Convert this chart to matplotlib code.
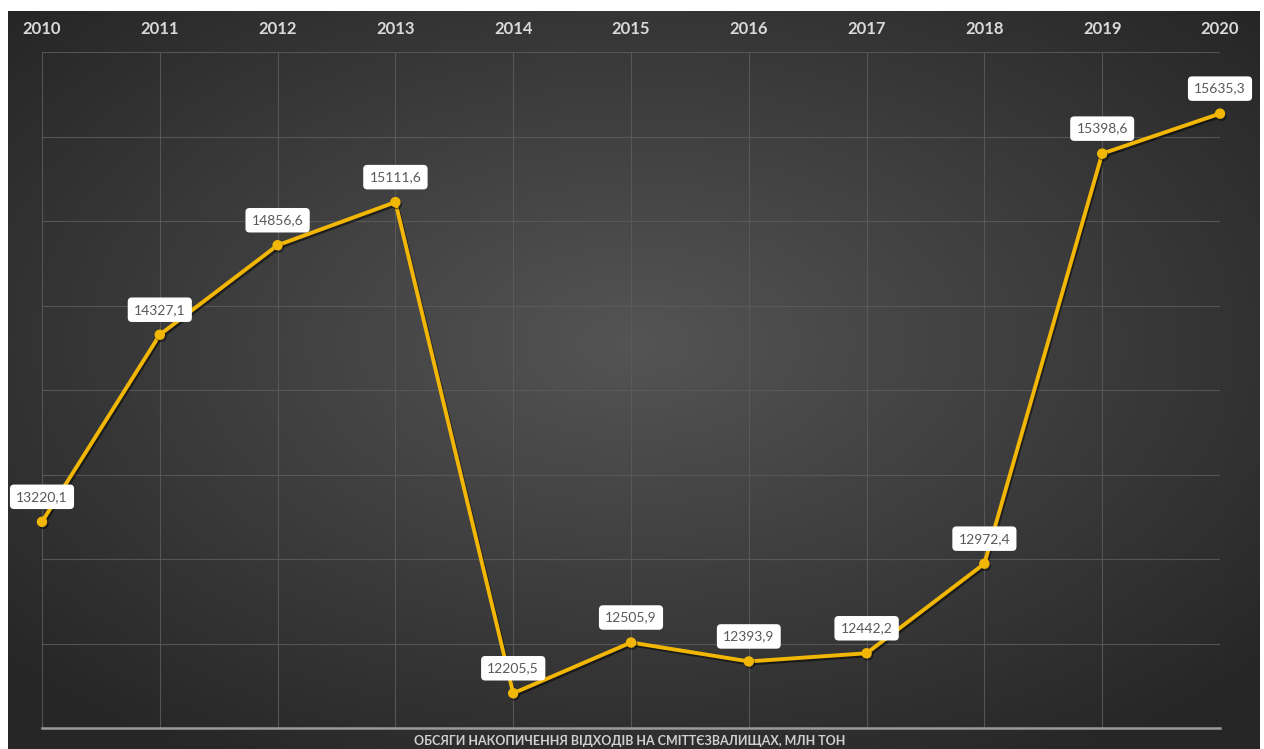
import numpy as np
import matplotlib.pyplot as plt
import matplotlib.patheffects as pe

# дані
years = [2010, 2011, 2012, 2013, 2014, 2015, 2016, 2017, 2018, 2019, 2020]
values = [13220.1, 14327.1, 14856.6, 15111.6, 12205.5, 12505.9, 12393.9, 12442.2, 12972.4, 15398.6, 15635.3]
labels = ["13220,1", "14327,1", "14856,6", "15111,6", "12205,5", "12505,9",
          "12393,9", "12442,2", "12972,4", "15398,6", "15635,3"]
title = "ОБСЯГИ НАКОПИЧЕННЯ ВІДХОДІВ НА СМІТТЄЗВАЛИЩАХ, МЛН ТОН"

plt.rcParams['font.family'] = ['Lato', 'DejaVu Sans']

W, H = 1264, 749
fig = plt.figure(figsize=(W / 100, H / 100), dpi=100)
fig.patch.set_facecolor('white')

# фон з радіальним градієнтом
bg = fig.add_axes([8 / W, 0, (1260 - 8) / W, (749 - 11) / H])
yy, xx = np.mgrid[-1:1:300j, -1:1:500j]
r = np.sqrt((xx * 0.9) ** 2 + ((yy + 0.1) * 0.9) ** 2)
r = np.clip(r, 0, 1.2)
shade = 0.33 - 0.15 * r
img = np.dstack([shade, shade, shade])
bg.imshow(img, aspect='auto', extent=[0, 1, 0, 1])
bg.set_axis_off()

ax = fig.add_axes([42 / W, (749 - 728) / H, (1220 - 42) / W, (728 - 52) / H])
ax.set_facecolor('none')
ax.set_xlim(2010, 2020)
ax.set_ylim(12000, 16000)
ax.set_xticks(years)
ax.set_yticks(np.arange(12000, 16001, 500))
ax.grid(True, color='#5c5c5c', linewidth=0.8, alpha=0.85)
ax.set_axisbelow(True)
for s in ['left', 'right', 'top']:
    ax.spines[s].set_visible(False)
ax.spines['bottom'].set_color('#9a9a9a')
ax.spines['bottom'].set_linewidth(1.8)
ax.xaxis.tick_top()
ax.tick_params(axis='x', length=0, pad=11, labelsize=12, labelcolor='#d9d9d9')
for t in ax.get_xticklabels():
    t.set_fontweight('bold')
ax.tick_params(axis='y', length=0, labelleft=False)

ax.plot(years, values, color='#F2B705', linewidth=2.8, marker='o', markersize=6.5,
        solid_joinstyle='round', clip_on=False, zorder=3,
        path_effects=[pe.SimpleLineShadow(offset=(1, -1.5), shadow_color='black', alpha=0.5),
                      pe.Normal()])

for x, y, lab in zip(years, values, labels):
    ax.annotate(lab, (x, y), xytext=(0, 18), textcoords='offset points',
                ha='center', va='center', fontsize=10, color='#595959',
                annotation_clip=False, zorder=5,
                bbox=dict(boxstyle='round,pad=0.45,rounding_size=0.3', fc='white', ec='none'))

fig.text(630 / W, 1 - 741 / H, title, ha='center', va='center', fontsize=9,
         fontweight='bold', color='#d0d0d0')

fig.savefig('out.png', dpi=100)
